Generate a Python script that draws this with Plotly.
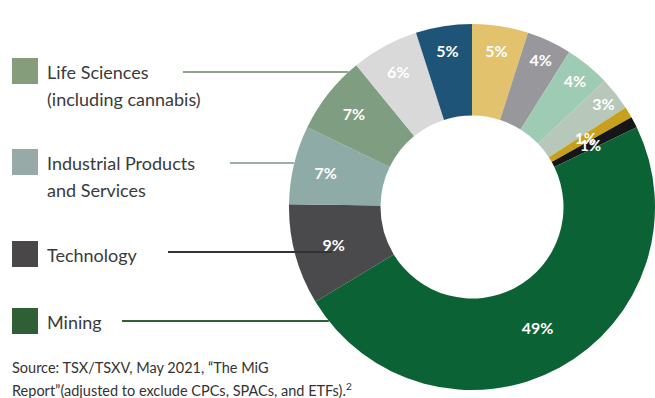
import plotly.graph_objects as go
import math

# ---- data (clockwise from 12 o'clock) ----
sectors = ["Other A", "Other B", "Other C", "Other D", "Other E", "Other F",
           "Mining", "Technology", "Industrial Products and Services",
           "Life Sciences (including cannabis)", "Other G", "Other H"]
shares = [5, 4, 4, 3, 1, 1, 49, 9, 7, 7, 6, 5]
colors = ["#E2C26D", "#98979C", "#9ECBB4", "#B7C8BA", "#C9A01E", "#161616",
          "#0B6335", "#4A494B", "#8EABA7", "#7F9D80", "#D9D9D9", "#1D5478"]

legend_names = [["Life Sciences", "(including cannabis)"],
                ["Industrial Products", "and Services"],
                ["Technology"],
                ["Mining"]]
legend_colors = ["#869D7C", "#98AAA7", "#4A4749", "#2F5F35"]
line_colors = ["#8FA38A", "#9BB0AC", "#333333", "#2F5F35"]

source_lines = ["Source: TSX/TSXV, May 2021, \u201cThe MiG",
                "Report\u201d(adjusted to exclude CPCs, SPACs, and ETFs).<sup>2</sup>"]

W, H = 655, 398
cx, cy, R = 472, 207, 183  # pixel geometry of the donut (from top-left)
HOLE = 0.5

# tiny slices get their labels as annotations at mid-ring (overlapping as in the original)
small = [v <= 1 for v in shares]
labels_txt = [f"{v}%" for v in shares]
text_pos = ["none" if s else "inside" for s in small]

fig = go.Figure(go.Pie(
    labels=sectors, values=shares, text=labels_txt, textinfo="text",
    sort=False, direction="clockwise", rotation=0, hole=HOLE,
    marker=dict(colors=colors, line=dict(width=0)),
    textposition=text_pos, insidetextorientation="horizontal",
    textfont=dict(family="Lato", size=16, color="white", weight="bold"),
    domain=dict(x=[(cx - R) / W, (cx + R) / W], y=[(H - cy - R) / H, (H - cy + R) / H]),
    showlegend=False, hoverinfo="skip",
))

shapes = []
annotations = []

total = sum(shares)
cum = 0
rmid = R * (1 + HOLE) / 2 - 4
for v, s in zip(shares, small):
    if s:
        ang = math.radians((cum + v / 2) / total * 360)
        px = cx + rmid * math.sin(ang)
        py = cy - rmid * math.cos(ang)
        annotations.append(dict(text=f"{v}%", x=px / W, y=1 - py / H, xref="paper", yref="paper",
                                xanchor="center", yanchor="middle", showarrow=False,
                                font=dict(family="Lato", size=15, color="white", weight="bold")))
    cum += v

sq_top = [58, 149, 241, 308]
line_y = [72, 163, 252, 321]
line_x0 = [183, 230, 168, 122]
line_x1 = [cx - math.sqrt(R**2 - (cy - line_y[0])**2),
           cx - math.sqrt(R**2 - (cy - line_y[1])**2),
           332,
           cx - math.sqrt(R**2 - (cy - line_y[3])**2)]

for i, names in enumerate(legend_names):
    t = sq_top[i]
    shapes.append(dict(type="rect", xref="paper", yref="paper",
                       x0=12 / W, x1=38 / W, y0=1 - (t + 26) / H, y1=1 - t / H,
                       fillcolor=legend_colors[i], line=dict(width=0)))
    for j, nm in enumerate(names):
        yc = t + 14 + j * 27
        annotations.append(dict(text=nm, x=45 / W, y=1 - yc / H, xref="paper", yref="paper",
                                xanchor="left", yanchor="middle", showarrow=False,
                                font=dict(family="Lato", size=18, color="#3A3A3A")))
    shapes.append(dict(type="line", xref="paper", yref="paper",
                       x0=line_x0[i] / W, x1=line_x1[i] / W,
                       y0=1 - line_y[i] / H, y1=1 - line_y[i] / H,
                       line=dict(color=line_colors[i], width=2)))

for k, s in enumerate(source_lines):
    annotations.append(dict(text=s, x=10 / W, y=1 - (367 + k * 22) / H, xref="paper", yref="paper",
                            xanchor="left", yanchor="middle", showarrow=False,
                            font=dict(family="Lato", size=14.5, color="#333333")))

fig.update_layout(width=W, height=H, margin=dict(l=0, r=0, t=0, b=0),
                  paper_bgcolor="white", plot_bgcolor="white",
                  shapes=shapes, annotations=annotations,
                  uniformtext=dict(minsize=16, mode="show"))
fig.write_html("out.html")
